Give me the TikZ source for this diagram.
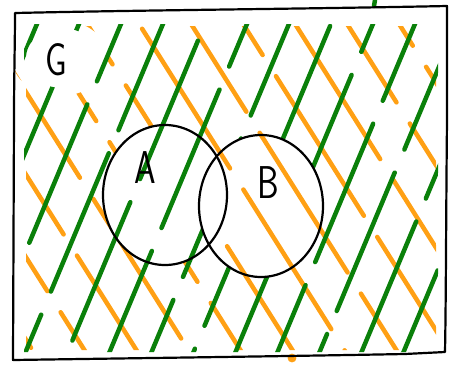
\documentclass[tikz,border=0pt]{standalone}
\definecolor{hgreen}{RGB}{10,128,10}
\definecolor{horange}{RGB}{255,160,20}
\tikzset{
  hatchg/.style={draw=hgreen,line width=4.5pt,line cap=round},
  hatcho/.style={draw=horange,line width=4.5pt,line cap=round},
  ink/.style={draw=black,line width=2.2pt,line cap=round,line join=round},
  letter/.style={font=\sffamily\fontsize{46}{46}\selectfont,xscale=0.75,inner sep=0pt}
}
\begin{document}
\begin{tikzpicture}[x=1pt,y=-1pt]
\useasboundingbox (0,0) rectangle (456,365);
% orange: everywhere in G except A
\begin{scope}[even odd rule]
  \clip (26,26) rectangle (436,350) (165,195) ellipse (62 and 70) (60,58) ellipse (48 and 38);
  \foreach \x [count=\i] in {-240,-188,...,460} {
    \pgfmathsetmacro{\ph}{mod(\i*67,190)}
    \draw[hatcho,dash pattern=on 165pt off 25pt,dash phase=\ph pt] (\x,0) -- ++(233,370);
  }
\end{scope}
% green: everywhere in G except B
\begin{scope}[even odd rule]
  \clip (24,24) rectangle (438,352) (261,206) ellipse (62 and 71) (62,58) ellipse (36 and 30);
  \foreach \x [count=\i] in {-150,-108,...,460} {
    \pgfmathsetmacro{\ph}{mod(\i*53,175)}
    \draw[hatchg,dash pattern=on 150pt off 25pt,dash phase=\ph pt] (\x,370) -- ++(155,-370);
  }
\end{scope}
\draw[hatchg] (375,0) -- (374,6);
\draw[hatcho] (292,358) circle (2pt);
% frame G
\draw[ink] (15,13) .. controls (150,10) and (300,9) .. (447,6) -- (447,120) .. controls (446,220) and (446,300) .. (445,352)
  -- (405,354) .. controls (300,356) and (150,358) .. (13,360) -- (14,118) .. controls (14,80) and (15,40) .. (15,13);
% circles
\draw[ink] (165,195) ellipse (62 and 70);
\draw[ink] (261,206) ellipse (62 and 71);
\node[letter] (G) at (56,60) {G};
\node[letter] (A) at (145,168) {A};
\node[letter] (B) at (268,183) {B};
\end{tikzpicture}
\end{document}
